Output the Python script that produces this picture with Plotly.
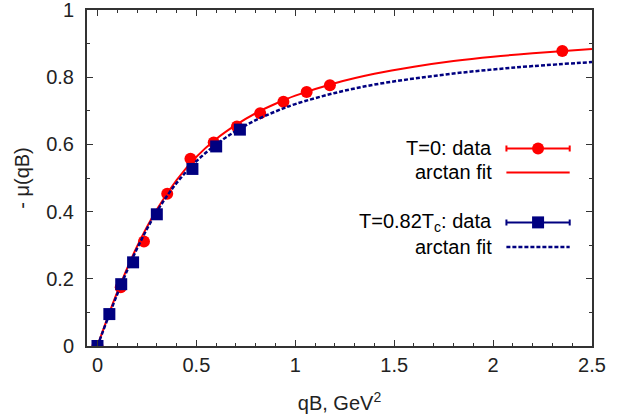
import plotly.graph_objects as go

# ---- data ----
red_x = [0.0, 0.1175, 0.235, 0.3525, 0.47, 0.5875, 0.705, 0.8225, 0.94, 1.0575, 1.175, 2.35]
red_y = [0.0, 0.175, 0.311, 0.453, 0.557, 0.606, 0.653, 0.693, 0.727, 0.756, 0.776, 0.878]

blue_x = [0.0, 0.06, 0.12, 0.18, 0.30, 0.48, 0.60, 0.72]
blue_y = [0.0, 0.095, 0.184, 0.249, 0.392, 0.527, 0.594, 0.644]

fit_x = [0.0, 0.1, 0.2, 0.3, 0.4, 0.5, 0.6, 0.7, 0.8, 0.9, 1.0, 1.2, 1.4, 1.6, 1.8, 2.0, 2.2, 2.5]
red_fit_y = [0.0, 0.160, 0.296, 0.406, 0.494, 0.563, 0.616, 0.658, 0.693, 0.721, 0.745, 0.782, 0.810, 0.831, 0.848, 0.861, 0.871, 0.884]
blue_fit_y = [0.0, 0.154, 0.290, 0.400, 0.485, 0.550, 0.600, 0.640, 0.672, 0.698, 0.720, 0.753, 0.778, 0.796, 0.811, 0.823, 0.833, 0.845]

x_ticks = [0, 0.5, 1, 1.5, 2, 2.5]
x_tick_labels = ["0", "0.5", "1", "1.5", "2", "2.5"]
y_ticks = [0, 0.2, 0.4, 0.6, 0.8, 1]
y_tick_labels = ["0", "0.2", "0.4", "0.6", "0.8", "1"]

legend_labels = ["T=0: data", "arctan fit", "T=0.82T<sub>c</sub>: data", "arctan fit"]

RED = "#ff0000"
BLUE = "#000080"
AXC = "#333333"
FONT = "Liberation Sans, Arial, sans-serif"

fig = go.Figure()

# data & fits
fig.add_trace(go.Scatter(x=red_x, y=red_y, mode="markers",
                         marker=dict(symbol="circle", size=12, color=RED), showlegend=False))
fig.add_trace(go.Scatter(x=fit_x, y=red_fit_y, mode="lines", line_shape="spline",
                         line=dict(color=RED, width=2), showlegend=False))
fig.add_trace(go.Scatter(x=blue_x, y=blue_y, mode="markers",
                         marker=dict(symbol="square", size=12, color=BLUE), showlegend=False))
fig.add_trace(go.Scatter(x=fit_x, y=blue_fit_y, mode="lines", line_shape="spline",
                         line=dict(color=BLUE, width=2.5, dash="4px,2px"), showlegend=False))

# ---- manual legend on an overlay axis (0..1 over the plot area) ----
lx0, lx1, lxc = 0.8305, 0.9558, 0.8932
ly = [0.5878, 0.5165, 0.3679, 0.2948]
half = (lx1 - lx0) / 2

fig.add_trace(go.Scatter(x=[lxc], y=[ly[0]], mode="markers", xaxis="x2", yaxis="y2",
                         marker=dict(symbol="circle", size=12, color=RED),
                         error_x=dict(type="data", array=[half], color=RED, thickness=2, width=3),
                         showlegend=False))
fig.add_trace(go.Scatter(x=[lx0, lx1], y=[ly[1], ly[1]], mode="lines", xaxis="x2", yaxis="y2",
                         line=dict(color=RED, width=2), showlegend=False))
fig.add_trace(go.Scatter(x=[lxc], y=[ly[2]], mode="markers", xaxis="x2", yaxis="y2",
                         marker=dict(symbol="square", size=12, color=BLUE),
                         error_x=dict(type="data", array=[half], color=BLUE, thickness=2, width=3),
                         showlegend=False))
fig.add_trace(go.Scatter(x=[lx0, lx1], y=[ly[3], ly[3]], mode="lines", xaxis="x2", yaxis="y2",
                         line=dict(color=BLUE, width=2.5, dash="4px,2px"), showlegend=False))

for lab, yy in zip(legend_labels, ly):
    fig.add_annotation(x=0.806, y=yy, xref="paper", yref="paper", text=lab, showarrow=False,
                       xanchor="right", yanchor="middle", font=dict(size=20, color="black", family=FONT))

axis_common = dict(showline=True, linecolor=AXC, linewidth=2, mirror="allticks",
                   ticks="inside", ticklen=6, tickwidth=1, tickcolor=AXC,
                   showgrid=False, zeroline=False, automargin=False,
                   ticklabeloverflow="allow",
                   tickfont=dict(size=20, color="#222222", family=FONT))

fig.update_layout(
    width=643, height=420,
    margin=dict(l=87, r=51, t=10, b=73.5),
    paper_bgcolor="white", plot_bgcolor="white",
    font=dict(family=FONT, size=20, color="#222222"),
    xaxis=dict(range=[-0.053, 2.5], tickvals=x_ticks, ticktext=x_tick_labels,
               minor=dict(ticks="inside", ticklen=3, dtick=0.1, tick0=0, tickcolor=AXC, showgrid=False),
               title=dict(text="qB, GeV<sup>2</sup>", standoff=21, font=dict(size=20)),
               ticklabelstandoff=0, **axis_common),
    yaxis=dict(range=[0, 1], tickvals=y_ticks, ticktext=y_tick_labels,
               minor=dict(ticks="inside", ticklen=3, dtick=0.1, tick0=0, tickcolor=AXC, showgrid=False),
               title=dict(text="- \u03bc(qB)", standoff=11, font=dict(size=20)),
               ticklabelstandoff=7, **axis_common),
    xaxis2=dict(range=[0, 1], overlaying="x", anchor="y2", visible=False),
    yaxis2=dict(range=[0, 1], overlaying="y", anchor="x2", visible=False),
)

# remove the page's default 8px body margin so the figure sits at the window origin
fig.write_html("out.html", config={"displayModeBar": False},
               post_script="document.body.style.margin='0';")
